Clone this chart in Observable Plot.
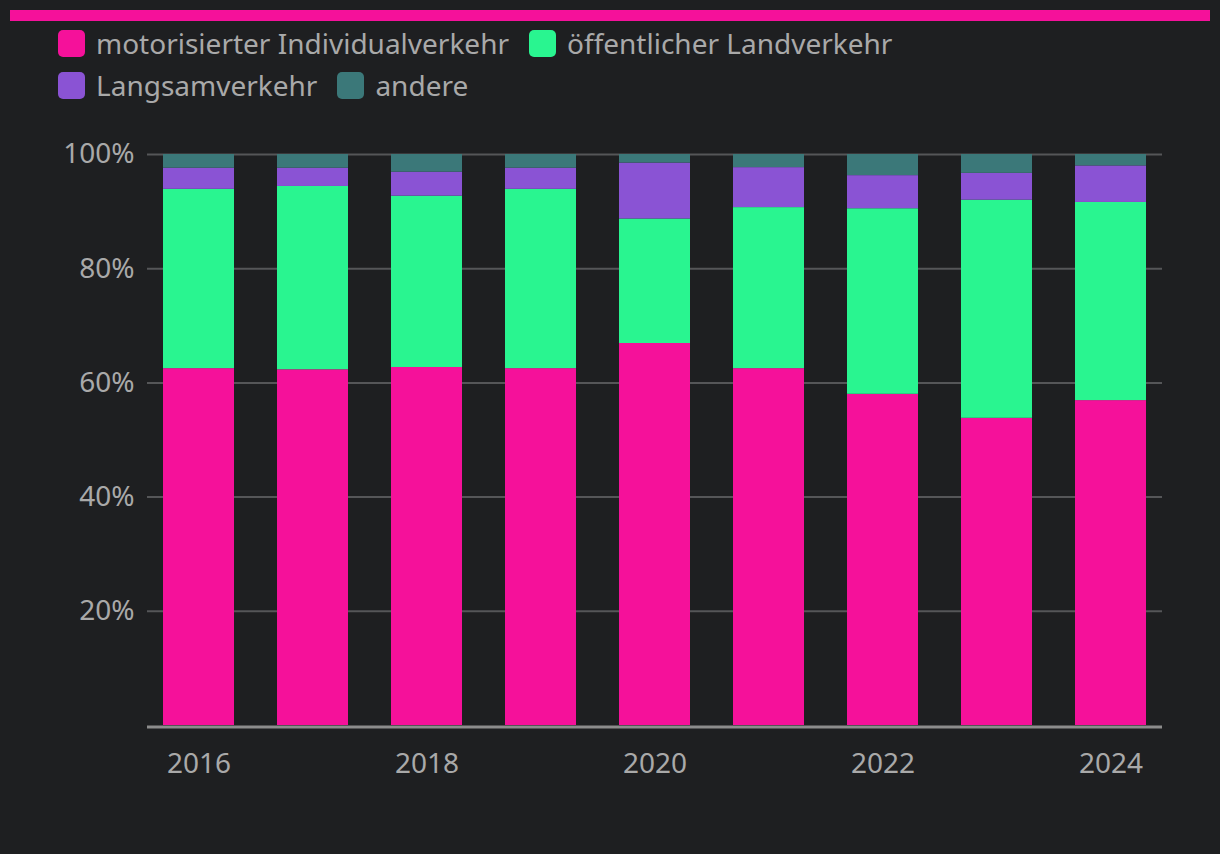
<!DOCTYPE html>
<html>
<head>
<meta charset="utf-8">
<script src="https://cdn.jsdelivr.net/npm/d3@7"></script>
<script src="https://cdn.jsdelivr.net/npm/@observablehq/plot@0.6"></script>
<style>
  html, body { margin: 0; padding: 0; background: #1e1f21; width: 1220px; height: 854px; overflow: hidden; font-family: "Noto Sans", sans-serif; }
  #topbar { position: absolute; left: 10px; top: 10px; width: 1200px; height: 11px; background: #f5119a; }
  #legend { position: absolute; left: 58px; top: 30px; width: 850px; display: flex; flex-wrap: wrap; column-gap: 20px; row-gap: 15px; }
  .item { display: flex; align-items: center; height: 27px; }
  .sw { width: 27px; height: 27px; border-radius: 5px; margin-right: 11px; }
  .lab { font-size: 28px; color: #a9a9a9; line-height: 27px; white-space: nowrap; }
  #chart { position: absolute; left: 0; top: 110px; }
</style>
</head>
<body>
<div id="topbar"></div>
<div id="legend"></div>
<div id="chart"></div>
<script>
const years = [2016, 2017, 2018, 2019, 2020, 2021, 2022, 2023, 2024];
const seriesNames = ["motorisierter Individualverkehr", "öffentlicher Landverkehr", "Langsamverkehr", "andere"];
const seriesColors = ["#f5119a", "#29f590", "#8a53d4", "#3b7879"];
const miv    = [62.5, 62.3, 62.7, 62.5, 66.9, 62.5, 58.0, 53.8, 56.9];
const oev    = [31.4, 32.1, 30.0, 31.4, 21.8, 28.2, 32.5, 38.2, 34.7];
const langsam = [3.7, 3.2, 4.2, 3.7, 9.8, 7.0, 5.8, 4.7, 6.4];
const andere = [2.4, 2.4, 3.1, 2.4, 1.5, 2.3, 3.7, 3.3, 2.0];
const yTicks = [20, 40, 60, 80, 100];
const xTicks = [2016, 2018, 2020, 2022, 2024];

const seriesValues = [miv, oev, langsam, andere];
const table = [];
years.forEach((yr, i) => {
  seriesNames.forEach((s, j) => table.push({year: yr, series: s, value: seriesValues[j][i]}));
});

// legend
const legend = document.getElementById("legend");
seriesNames.forEach((s, j) => {
  const it = document.createElement("div"); it.className = "item";
  const sw = document.createElement("div"); sw.className = "sw"; sw.style.background = seriesColors[j];
  const lb = document.createElement("span"); lb.className = "lab"; lb.textContent = s;
  it.appendChild(sw); it.appendChild(lb); legend.appendChild(it);
});

const chart = Plot.plot({
  width: 1220,
  height: 744,
  marginTop: 44,
  marginBottom: 129,
  marginLeft: 147,
  marginRight: 58,
  style: { background: "transparent", color: "#a9a9a9", fontFamily: "Noto Sans, sans-serif", fontSize: "28px" },
  x: { type: "band", domain: years, paddingInner: 0.3786, paddingOuter: 0.1313, label: null },
  y: { domain: [0, 100], label: null },
  color: { domain: seriesNames, range: seriesColors },
  marks: [
    Plot.gridY(yTicks, { stroke: "#555658", strokeOpacity: 1, strokeWidth: 2 }),
    Plot.barY(table, { x: "year", y: "value", fill: "series", order: seriesNames }),
    Plot.ruleY([0], { stroke: "#8c8c8c", strokeWidth: 3, dy: 1.5 }),
    Plot.axisY(yTicks, { tickSize: 0, tickPadding: 13, tickFormat: d => d + "%", fill: "#a9a9a9", fontSize: 28, label: null }),
    Plot.axisX(xTicks, { tickSize: 0, tickPadding: 28, fill: "#a9a9a9", fontSize: 28, label: null, tickFormat: d => String(d) })
  ]
});
document.getElementById("chart").appendChild(chart);
</script>
</body>
</html>
